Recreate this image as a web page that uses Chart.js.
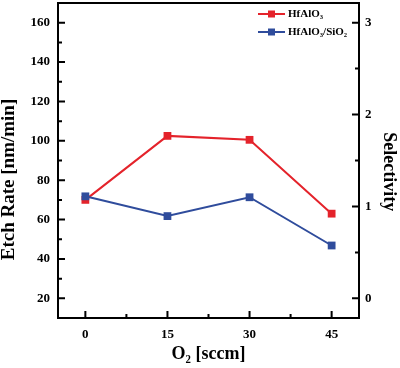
<!DOCTYPE html>
<html>
<head>
<meta charset="utf-8">
<script src="https://cdn.jsdelivr.net/npm/chart.js@4.4.1/dist/chart.umd.min.js"></script>
<style>
  html, body { margin: 0; padding: 0; background: #fff; }
  #wrap { width: 400px; height: 368px; }
</style>
</head>
<body>
<div id="wrap"><canvas id="chart" width="400" height="368"></canvas></div>
<script>
// ================= DATA =================
const o2Flow = [0, 15, 30, 45];
const etchRate = [70, 102.5, 100.5, 63];          // HfAlO3, left axis
const selectivity = [1.11, 0.895, 1.10, 0.575];   // HfAlO3/SiO2, right axis

const xTicks = [0, 15, 30, 45];
const leftTicks = [20, 40, 60, 80, 100, 120, 140, 160];
const rightTicks = [0, 1, 2, 3];

const labelA = "HfAlO\u2083";
const labelB = "HfAlO\u2083/SiO\u2082";

// ================= STYLE =================
const RED = "#e4232b";
const BLUE = "#2f4c9c";
const FONT = "'Liberation Serif', 'Times New Roman', serif";

// no automatic label padding, the frame is fixed
function fixBox(s, size) {
  if (s.isHorizontal()) s.height = size; else s.width = size;
  s.paddingTop = 0;
  s.paddingBottom = 0;
  s.paddingLeft = 0;
  s.paddingRight = 0;
}

// ================= PLUGIN: box, inward ticks, legend =================
const frame = {
  id: "frame",
  afterDraw(chart) {
    const ctx = chart.ctx;
    const a = chart.chartArea;
    ctx.save();
    ctx.strokeStyle = "#000";
    ctx.lineWidth = 2;
    ctx.lineCap = "butt";

    function marks(scale, draw) {
      const vals = scale.ticks.map(t => t.value);
      const step = vals[1] - vals[0];
      vals.forEach(v => draw(scale.getPixelForValue(v), 7));
      const minors = [vals[0] - step / 2];
      for (let i = 0; i < vals.length; i++) minors.push(vals[i] + step / 2);
      minors.forEach(v => {
        if (v > scale.min && v < scale.max) draw(scale.getPixelForValue(v), 4);
      });
    }

    ctx.beginPath();
    marks(chart.scales.x, (p, len) => { ctx.moveTo(p, a.bottom); ctx.lineTo(p, a.bottom - len); });
    marks(chart.scales.y, (p, len) => { ctx.moveTo(a.left, p); ctx.lineTo(a.left + len, p); });
    marks(chart.scales.y1, (p, len) => { ctx.moveTo(a.right, p); ctx.lineTo(a.right - len, p); });
    ctx.stroke();

    ctx.strokeRect(a.left, a.top, a.right - a.left, a.bottom - a.top);

    // legend
    const x0 = a.right - 101;
    chart.data.datasets.slice().sort((p, q) => p.legendRank - q.legendRank).forEach((ds, i) => {
      const y = a.top + 11 + i * 18;
      ctx.strokeStyle = ds.borderColor;
      ctx.lineWidth = 2;
      ctx.beginPath();
      ctx.moveTo(x0, y);
      ctx.lineTo(x0 + 27, y);
      ctx.stroke();
      ctx.fillStyle = ds.borderColor;
      ctx.fillRect(x0 + 10, y - 3.5, 7, 7);
      ctx.fillStyle = "#000";
      ctx.font = "bold 11px " + FONT;
      ctx.textBaseline = "middle";
      ctx.textAlign = "left";
      ctx.fillText(ds.label, x0 + 30, y);
    });
    ctx.restore();
  }
};

// ================= CHART =================
new Chart(document.getElementById("chart"), {
  type: "line",
  data: {
    datasets: [
      {
        label: labelA,
        legendRank: 0,
        order: 1,
        yAxisID: "y",
        data: o2Flow.map((x, i) => ({ x: x, y: etchRate[i] })),
        borderColor: RED,
        backgroundColor: RED,
        borderWidth: 2,
        pointStyle: "rect",
        pointRadius: 5.5,
        pointBorderWidth: 0,
        tension: 0
      },
      {
        label: labelB,
        legendRank: 1,
        order: 0,
        yAxisID: "y1",
        data: o2Flow.map((x, i) => ({ x: x, y: selectivity[i] })),
        borderColor: BLUE,
        backgroundColor: BLUE,
        borderWidth: 2,
        pointStyle: "rect",
        pointRadius: 5.5,
        pointBorderWidth: 0,
        tension: 0
      }
    ]
  },
  options: {
    responsive: false,
    animation: false,
    layout: { autoPadding: false, padding: { top: 3 } },
    plugins: {
      legend: { display: false },
      tooltip: { enabled: false }
    },
    scales: {
      x: {
        type: "linear",
        min: -5,
        max: 50,
        afterBuildTicks: s => { s.ticks = xTicks.map(v => ({ value: v })); },
        afterFit: s => fixBox(s, 50),
        grid: { display: false, drawTicks: false },
        border: { display: false },
        ticks: { color: "#000", padding: 9, maxRotation: 0, font: { family: FONT, size: 13, weight: "bold" } },
        title: {
          display: true,
          text: "O\u2082 [sccm]",
          color: "#000",
          padding: { top: 0, bottom: 3 },
          font: { family: FONT, size: 18, weight: "bold", lineHeight: 1.2 }
        }
      },
      y: {
        position: "left",
        min: 10,
        max: 170,
        afterBuildTicks: s => { s.ticks = leftTicks.map(v => ({ value: v })); },
        afterFit: s => fixBox(s, 58),
        grid: { display: false, drawTicks: false },
        border: { display: false },
        ticks: { color: "#000", padding: 8, font: { family: FONT, size: 13, weight: "bold" } },
        title: {
          display: true,
          text: "Etch Rate [nm/min]        ",
          color: "#000",
          padding: { top: 0, bottom: 0 },
          font: { family: FONT, size: 19, weight: "bold", lineHeight: 1 }
        }
      },
      y1: {
        position: "right",
        min: -0.214,
        max: 3.214,
        afterBuildTicks: s => { s.ticks = rightTicks.map(v => ({ value: v })); },
        afterFit: s => fixBox(s, 41),
        grid: { display: false, drawTicks: false },
        border: { display: false },
        ticks: { color: "#000", padding: 6, font: { family: FONT, size: 13, weight: "bold" } },
        title: {
          display: true,
          text: "     Selectivity",
          color: "#000",
          padding: { top: 2, bottom: 0 },
          font: { family: FONT, size: 18, weight: "bold", lineHeight: 1 }
        }
      }
    }
  },
  plugins: [frame]
});
</script>
</body>
</html>
